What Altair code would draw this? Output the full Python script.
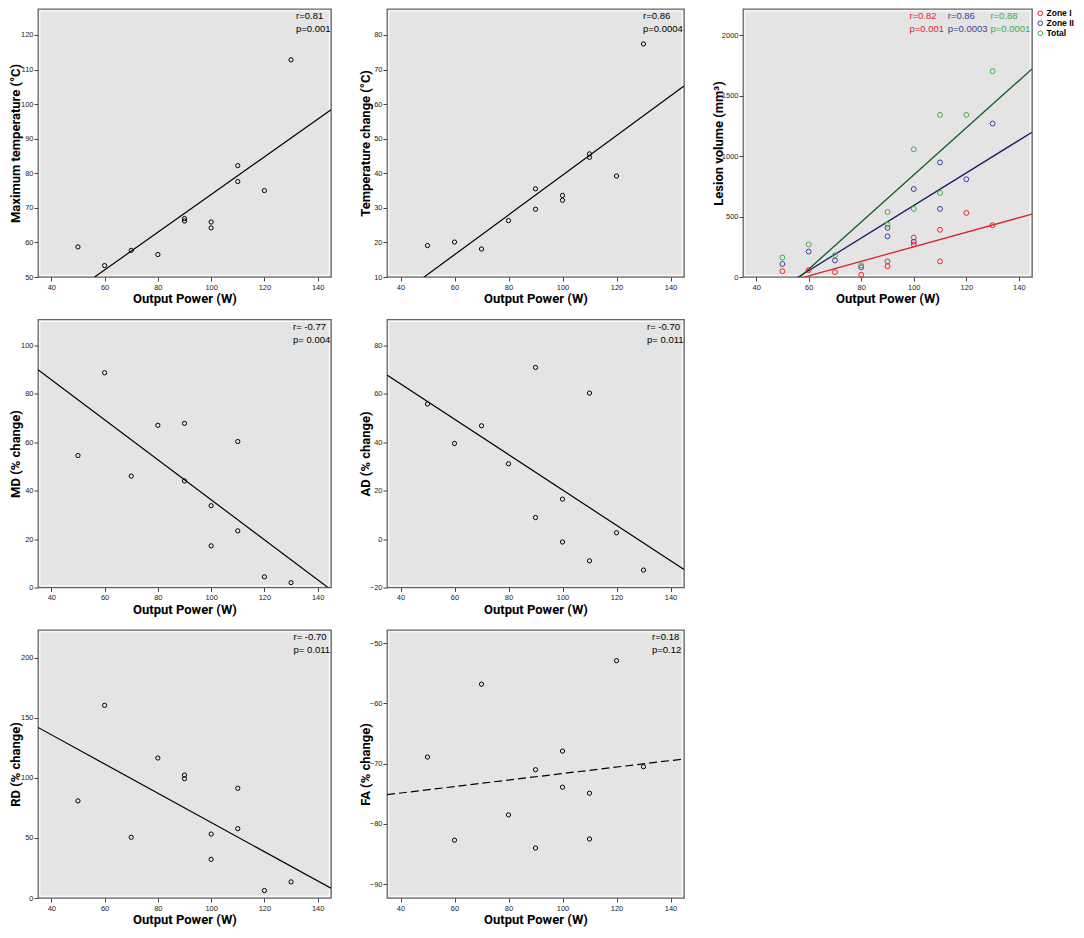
import altair as alt
import pandas as pd

# ---------------- data ----------------
power = [50, 60, 70, 80, 90, 90, 100, 100, 110, 110, 120, 130]
max_temp = [58.7, 53.3, 57.7, 56.5, 66.9, 66.2, 65.9, 64.2, 82.2, 77.6, 75.0, 112.8]
temp_change = [19.1, 20.1, 18.1, 26.3, 35.5, 29.6, 33.6, 32.2, 45.6, 44.6, 39.2, 77.4]
zone1 = [48, 57, 40, 19, 129, 89, 326, 269, 390, 129, 530, 428]
zone2 = [108, 210, 137, 81, 406, 336, 727, 291, 947, 563, 808, 1268]
total = [161, 269, 180, 97, 538, 433, 1055, 563, 1340, 694, 1340, 1701]
md = [54.5, 88.7, 46.0, 67.0, 67.8, 44.0, 33.8, 17.2, 60.3, 23.4, 4.4, 2.0]
ad = [55.8, 39.5, 46.8, 31.1, 70.9, 8.9, 16.5, -1.2, 60.3, -9.0, 2.6, -12.8]
rd = [80.8, 160.3, 50.5, 116.5, 102.3, 99.3, 53.2, 32.2, 91.3, 57.7, 6.2, 13.4]
fa = [-68.9, -82.7, -56.8, -78.5, -71.0, -84.0, -67.9, -73.9, -74.9, -82.5, -52.9, -70.5]

series_names = ["Zone I", "Zone II", "Total"]
x_ticks = [40, 60, 80, 100, 120, 140]
x_domain = [35, 145]

ann_p1 = ["r=0.81", "p=0.001"]
ann_p2 = ["r=0.86", "p=0.0004"]
ann_p3 = [["r=0.82", "p=0.001"], ["r=0.86", "p=0.0003"], ["r=0.88", "p=0.0001"]]
ann_md = ["r= -0.77", "p= 0.004"]
ann_ad = ["r= -0.70", "p= 0.011"]
ann_rd = ["r= -0.70", "p= 0.011"]
ann_fa = ["r=0.18", "p=0.12"]

# ---------------- styling ----------------
FONT_T = "Roboto"
FONT_L = "Liberation Sans"
H = 268
W1, W2, W3 = 293, 297, 289
SP = 26
pt_colors = ["#e8262c", "#3d3d9e", "#44ad49"]
line_colors = ["#d8232a", "#1c1c66", "#0f5a23"]
txt_colors = ["#e8262c", "#3d3d9e", "#3cae4a"]

df = pd.DataFrame({
    "power": power, "max_temp": max_temp, "temp_change": temp_change,
    "md": md, "ad": ad, "rd": rd, "fa": fa,
})
df3 = pd.DataFrame({
    "power": power * 3,
    "volume": zone1 + zone2 + total,
    "series": [series_names[0]] * len(zone1) + [series_names[1]] * len(zone2) + [series_names[2]] * len(total),
})
one = pd.DataFrame({"k": [0]})


def xenc():
    return alt.X("power:Q", scale=alt.Scale(domain=x_domain, nice=False, zero=False),
                 axis=alt.Axis(values=x_ticks, title="Output Power (W)", format="d"))


def yenc(col, title, dom, ticks, ext):
    return alt.Y(f"{col}:Q", scale=alt.Scale(domain=dom, nice=False, zero=False),
                 axis=alt.Axis(values=ticks, title=title, format="d",
                               minExtent=ext, maxExtent=ext))


def frame(w):
    return alt.Chart(one).mark_rect(fillOpacity=0, stroke="white", strokeWidth=1).encode(
        x=alt.value(1.8), x2=alt.value(w - 1.8), y=alt.value(1.8), y2=alt.value(H - 1.8))


def text_layer(label, w, margin, ypos, color="black"):
    return alt.Chart(pd.DataFrame({"label": [label]})).mark_text(
        align="left", baseline="middle", font=FONT_L, fontSize=9.5, color=color
    ).encode(text="label:N", x=alt.value(w - margin), y=alt.value(ypos))


def panel(col, title, dom, ticks, ext, w, ann, margin, dashed=False):
    base = alt.Chart(df)
    x = xenc()
    y = yenc(col, title, dom, ticks, ext)
    line_kw = dict(color="black", strokeWidth=1.2, clip=True)
    if dashed:
        line_kw["strokeDash"] = [8, 4]
    line = base.transform_regression("power", col, extent=x_domain).mark_line(**line_kw).encode(x=x, y=y)
    pts = base.mark_point(shape="circle", filled=False, color="black", size=18,
                          strokeWidth=1, opacity=1).encode(x=x, y=y)
    layers = [frame(w), line, pts,
              text_layer(ann[0], w, margin, 7), text_layer(ann[1], w, margin, 20)]
    return alt.layer(*layers).properties(width=w, height=H)


p1 = panel("max_temp", "Maximum temperature (°C)", [50, 127.5], [50, 60, 70, 80, 90, 100, 110, 120], 16, W1, ann_p1, 35)
p2 = panel("temp_change", "Temperature change (°C)", [10, 87.5], [10, 20, 30, 40, 50, 60, 70, 80], 15, W2, ann_p2, 41)
p_md = panel("md", "MD (% change)", [0, 110.7], [0, 20, 40, 60, 80, 100], 16, W1, ann_md, 38)
p_ad = panel("ad", "AD (% change)", [-20, 90.7], [-20, 0, 20, 40, 60, 80], 15, W2, ann_ad, 37)
p_rd = panel("rd", "RD (% change)", [0, 223], [0, 50, 100, 150, 200], 16, W1, ann_rd, 37.5)
p_fa = panel("fa", "FA (% change)", [-92.3, -47.8], [-90, -80, -70, -60, -50], 15, W2, ann_fa, 32, dashed=True)

# lesion volume panel
base3 = alt.Chart(df3)
x3 = xenc()
y3 = yenc("volume", "Lesion volume (mm³)", [0, 2215], [0, 500, 1000, 1500, 2000], 18)
pts3 = base3.mark_point(shape="circle", filled=False, size=24, strokeWidth=1, opacity=1).encode(
    x=x3, y=y3,
    color=alt.Color("series:N", scale=alt.Scale(domain=series_names, range=pt_colors),
                    legend=alt.Legend(title=None, orient="right", offset=3, padding=0,
                                      symbolType="circle", symbolSize=22, symbolStrokeWidth=1,
                                      labelFont=FONT_L, labelFontSize=8.5, labelFontWeight="bold",
                                      labelColor="black", rowPadding=0, labelOffset=2)))
lines3 = []
for name, c in zip(series_names, line_colors):
    lines3.append(
        base3.transform_filter(alt.datum.series == name)
        .transform_regression("power", "volume", extent=x_domain)
        .mark_line(strokeWidth=1.3, clip=True, color=c)
        .encode(x=x3, y=y3)
    )
margins3 = [122.6, 84.3, 41.6]
texts3 = []
for i, pair in enumerate(ann_p3):
    texts3.append(text_layer(pair[0], W3, margins3[i], 7, txt_colors[i]))
    texts3.append(text_layer(pair[1], W3, margins3[i], 20, txt_colors[i]))
p3 = alt.layer(frame(W3), *lines3, pts3, *texts3).properties(width=W3, height=H)

row1 = alt.hconcat(p1, p2, p3, spacing=SP)
row2 = alt.hconcat(p_md, p_ad, spacing=SP)
row3 = alt.hconcat(p_rd, p_fa, spacing=SP)

chart = alt.vconcat(row1, row2, row3, spacing=11.5).properties(
    padding=0, background="white"
).configure_view(
    stroke="#666", strokeWidth=1.3, fill="#e4e4e4"
).configure_axis(
    grid=False, domain=False, tickSize=4, tickColor="#444", tickWidth=1,
    labelFont=FONT_L, labelFontSize=7.5, labelColor="#222", labelFlush=False,
    titleFont=FONT_T, titleFontSize=13, titleFontWeight="bold", titleColor="black",
).configure_axisX(
    labelPadding=2, titlePadding=2
).configure_axisY(
    labelPadding=1, titlePadding=0
)

chart.save("out.html", embed_options={"renderer": "svg", "actions": False})
